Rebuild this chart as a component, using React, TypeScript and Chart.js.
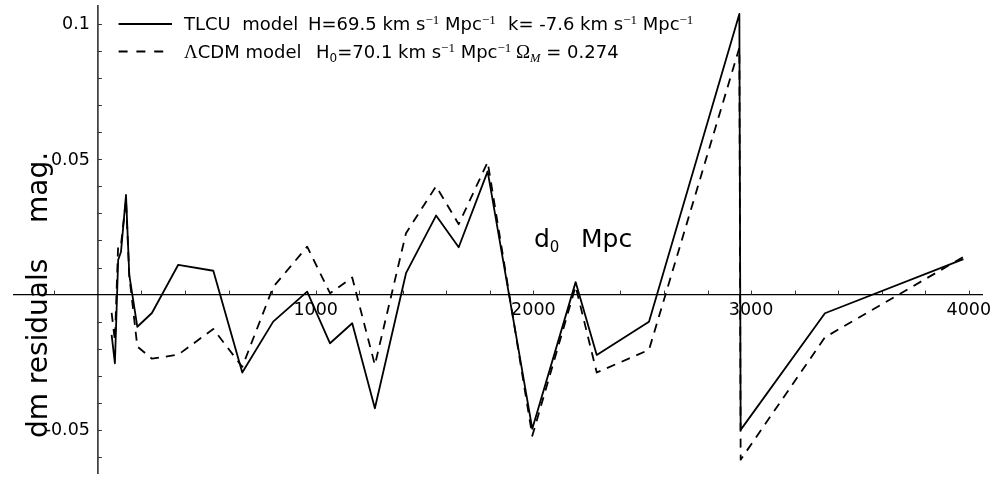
import React, { useEffect, useRef } from 'react';
import { Chart, registerables } from 'chart.js';

Chart.register(...registerables);

// ---- data ----
const distances = [63, 78, 93, 106, 129, 144, 181, 248, 369, 530, 663, 805, 961, 1066, 1168, 1272, 1415, 1553, 1657, 1790, 1995, 2194, 2291, 2531, 2946, 2952, 3339, 3975];
const tlcuResiduals = [-0.0149, -0.0254, 0.0128, 0.0158, 0.0368, 0.0073, -0.0119, -0.0068, 0.011, 0.0088, -0.0288, -0.01, 0.0011, -0.018, -0.0106, -0.042, 0.0079, 0.0292, 0.0175, 0.0455, -0.0496, 0.0046, -0.0223, -0.01, 0.1037, -0.05, -0.0069, 0.0131];
const lcdmResiduals = [-0.0068, -0.017, 0.0184, 0.0184, 0.035, 0.007, -0.0192, -0.0237, -0.0222, -0.0127, -0.0267, 0.0028, 0.0177, 0.0005, 0.0063, -0.026, 0.0227, 0.04, 0.026, 0.049, -0.0522, 0.003, -0.0288, -0.0204, 0.0912, -0.061, -0.0158, 0.0139];

const xTickValues = [1000, 2000, 3000, 4000];
const xTickLabels = ['1000', '2000', '3000', '4000'];
const yTickValues = [0.1, 0.05, -0.05];
const yTickLabels = ['0.1', '0.05', '-0.05'];
const xMinorSteps = [-1, 20]; // minor ticks every 200 from -200 to 4000
const yMinorSteps = [-6, 10]; // minor ticks every 0.01 from -0.06 to 0.10

const X_MIN = -390;
const X_MAX = 4065;
const Y_MIN = -0.0663;
const Y_MAX = 0.107;

const SANS = '"DejaVu Sans", "Noto Sans", sans-serif';
const SERIF = '"Liberation Serif", "DejaVu Serif", serif';

type Seg = { t: string; font: string; dy?: number };

function drawRich(ctx: CanvasRenderingContext2D, x: number, y: number, segs: Seg[]) {
  let cx = x;
  for (const s of segs) {
    ctx.font = s.font;
    ctx.fillText(s.t, cx, y + (s.dy || 0));
    cx += ctx.measureText(s.t).width;
  }
  return cx;
}

const mmaPlugin = {
  id: 'mmaAxes',
  beforeDatasetsDraw(chart: any) {
    const { ctx, chartArea, scales } = chart;
    const xs = scales.x;
    const ys = scales.y;
    const x0 = xs.getPixelForValue(0);
    const y0 = ys.getPixelForValue(0);
    ctx.save();
    // axes
    ctx.strokeStyle = '#000';
    ctx.lineWidth = 1.3;
    ctx.beginPath();
    ctx.moveTo(chartArea.left, y0);
    ctx.lineTo(chartArea.right, y0);
    ctx.moveTo(x0, chartArea.top);
    ctx.lineTo(x0, chartArea.bottom);
    ctx.stroke();
    // ticks
    ctx.strokeStyle = '#333';
    ctx.lineWidth = 1;
    ctx.beginPath();
    for (let k = xMinorSteps[0]; k <= xMinorSteps[1]; k++) {
      if (k === 0) continue;
      const px = Math.round(xs.getPixelForValue(k * 200)) + 0.5;
      ctx.moveTo(px, y0);
      ctx.lineTo(px, y0 - 4);
    }
    for (let k = yMinorSteps[0]; k <= yMinorSteps[1]; k++) {
      if (k === 0) continue;
      const py = Math.round(ys.getPixelForValue(k / 100)) + 0.5;
      ctx.moveTo(x0, py);
      ctx.lineTo(x0 + 4, py);
    }
    ctx.stroke();
    // tick labels
    ctx.fillStyle = '#000';
    ctx.font = '17.5px ' + SANS;
    ctx.textBaseline = 'middle';
    ctx.textAlign = 'center';
    xTickValues.forEach((v, i) => {
      ctx.fillText(xTickLabels[i], xs.getPixelForValue(v), y0 + 16);
    });
    ctx.textAlign = 'right';
    yTickValues.forEach((v, i) => {
      ctx.fillText(yTickLabels[i], x0 - 8, ys.getPixelForValue(v) + 1);
    });
    // axis titles
    ctx.textAlign = 'left';
    ctx.textBaseline = 'alphabetic';
    drawRich(ctx, 534, 247, [
      { t: 'd', font: '25px ' + SANS },
      { t: '0', font: '15px ' + SANS, dy: 5 },
    ]);
    ctx.font = '25px ' + SANS;
    ctx.fillText('Mpc', 581, 247);
    ctx.save();
    ctx.translate(47, 295);
    ctx.rotate(-Math.PI / 2);
    ctx.textAlign = 'center';
    ctx.font = '28px ' + SANS;
    ctx.fillText('dm residuals    mag.', 0, 0);
    ctx.restore();
    ctx.restore();
  },
  afterDraw(chart: any) {
    const { ctx } = chart;
    ctx.save();
    ctx.strokeStyle = '#000';
    ctx.fillStyle = '#000';
    ctx.lineWidth = 1.8;
    // legend samples
    ctx.beginPath();
    ctx.moveTo(118.6, 24);
    ctx.lineTo(172, 24);
    ctx.stroke();
    ctx.setLineDash([9, 8.8]);
    ctx.beginPath();
    ctx.moveTo(118.6, 51.5);
    ctx.lineTo(163.3, 51.5);
    ctx.stroke();
    ctx.setLineDash([]);
    ctx.textAlign = 'left';
    ctx.textBaseline = 'alphabetic';
    const F = '18px ' + SANS;
    const SUP = '13px ' + SERIF;
    const SUB = '12px ' + SANS;
    const b1 = 30;
    const b2 = 58;
    drawRich(ctx, 184, b1, [{ t: 'TLCU  model', font: F }]);
    drawRich(ctx, 308, b1, [
      { t: 'H=69.5 km s', font: F },
      { t: '\u22121', font: SUP, dy: -6.5 },
      { t: ' Mpc', font: F },
      { t: '\u22121', font: SUP, dy: -6.5 },
    ]);
    drawRich(ctx, 508, b1, [
      { t: 'k= -7.6 km s', font: F },
      { t: '\u22121', font: SUP, dy: -6.5 },
      { t: ' Mpc', font: F },
      { t: '\u22121', font: SUP, dy: -6.5 },
    ]);
    drawRich(ctx, 184, b2, [
      { t: '\u039B', font: '19px ' + SERIF },
      { t: 'CDM model', font: F },
    ]);
    drawRich(ctx, 316, b2, [
      { t: 'H', font: F },
      { t: '0', font: SUB, dy: 3.5 },
      { t: '=70.1 km s', font: F },
      { t: '\u22121', font: SUP, dy: -6.5 },
      { t: ' Mpc', font: F },
      { t: '\u22121', font: SUP, dy: -6.5 },
    ]);
    drawRich(ctx, 516, b2, [
      { t: '\u03A9', font: '19px ' + SERIF },
      { t: 'M', font: 'italic 12.5px ' + SERIF, dy: 3.5 },
      { t: ' = 0.274', font: F },
    ]);
    ctx.restore();
  },
};

export default function App() {
  const ref = useRef<HTMLCanvasElement | null>(null);
  useEffect(() => {
    if (!ref.current) return;
    const tlcu = distances.map((d, i) => ({ x: d, y: tlcuResiduals[i] }));
    const lcdm = distances.map((d, i) => ({ x: d, y: lcdmResiduals[i] }));
    const chart = new Chart(ref.current, {
      type: 'line',
      data: {
        datasets: [
          {
            label: 'TLCU model',
            data: tlcu,
            borderColor: '#000',
            borderWidth: 1.8,
            pointRadius: 0,
            tension: 0,
            fill: false,
            borderJoinStyle: 'round',
          },
          {
            label: 'LCDM model',
            data: lcdm,
            borderColor: '#000',
            borderWidth: 1.8,
            borderDash: [9, 7],
            pointRadius: 0,
            tension: 0,
            fill: false,
            borderJoinStyle: 'round',
          },
        ],
      },
      options: {
        animation: false,
        responsive: false,
        maintainAspectRatio: false,
        devicePixelRatio: 1,
        layout: { padding: { left: 13, right: 15, top: 5, bottom: 11 } },
        plugins: { legend: { display: false }, title: { display: false }, tooltip: { enabled: false } },
        events: [],
        scales: {
          x: { type: 'linear', min: X_MIN, max: X_MAX, display: false },
          y: { type: 'linear', min: Y_MIN, max: Y_MAX, display: false },
        },
      },
      plugins: [mmaPlugin],
    } as any);
    return () => chart.destroy();
  }, []);
  return (
    <div style={{ position: 'fixed', left: 0, top: 0, width: 998, height: 485, background: '#fff' }}>
      <canvas ref={ref} width={998} height={485} style={{ width: 998, height: 485, display: 'block' }} />
    </div>
  );
}
